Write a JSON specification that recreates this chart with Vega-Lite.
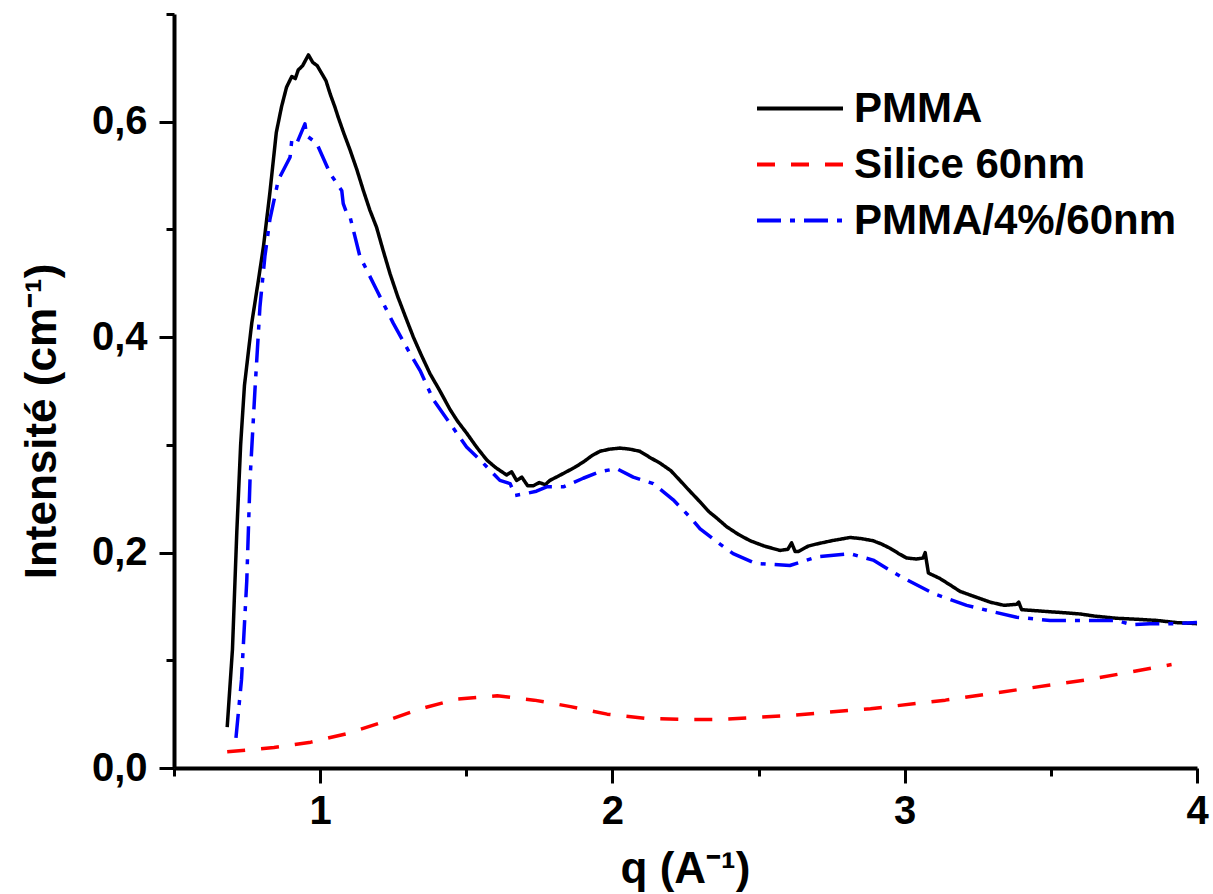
{
  "$schema": "https://vega.github.io/schema/vega-lite/v6.json",
  "autosize": {"type": "none"},
  "width": 1023,
  "height": 754,
  "padding": {"left": 174, "top": 14, "right": 16, "bottom": 126},
  "background": "white",
  "config": {
    "font": "Liberation Sans",
    "view": {"stroke": null},
    "axis": {"grid": false, "labelFont": "Liberation Sans", "titleFont": "Liberation Sans", "labelColor": "black", "titleColor": "black", "tickColor": "black", "domainColor": "black"},
    "legend": {"labelFont": "Liberation Sans"}
  },
  "data": {"values": [
    {"q": 0.682, "v": 0.038, "s": "PMMA"},
    {"q": 0.700, "v": 0.110, "s": "PMMA"},
    {"q": 0.715, "v": 0.220, "s": "PMMA"},
    {"q": 0.728, "v": 0.300, "s": "PMMA"},
    {"q": 0.741, "v": 0.355, "s": "PMMA"},
    {"q": 0.766, "v": 0.413, "s": "PMMA"},
    {"q": 0.790, "v": 0.455, "s": "PMMA"},
    {"q": 0.806, "v": 0.484, "s": "PMMA"},
    {"q": 0.828, "v": 0.534, "s": "PMMA"},
    {"q": 0.850, "v": 0.590, "s": "PMMA"},
    {"q": 0.868, "v": 0.614, "s": "PMMA"},
    {"q": 0.885, "v": 0.632, "s": "PMMA"},
    {"q": 0.903, "v": 0.642, "s": "PMMA"},
    {"q": 0.915, "v": 0.640, "s": "PMMA"},
    {"q": 0.925, "v": 0.648, "s": "PMMA"},
    {"q": 0.940, "v": 0.652, "s": "PMMA"},
    {"q": 0.960, "v": 0.662, "s": "PMMA"},
    {"q": 0.975, "v": 0.655, "s": "PMMA"},
    {"q": 0.990, "v": 0.652, "s": "PMMA"},
    {"q": 1.005, "v": 0.645, "s": "PMMA"},
    {"q": 1.020, "v": 0.638, "s": "PMMA"},
    {"q": 1.034, "v": 0.626, "s": "PMMA"},
    {"q": 1.050, "v": 0.614, "s": "PMMA"},
    {"q": 1.062, "v": 0.604, "s": "PMMA"},
    {"q": 1.080, "v": 0.590, "s": "PMMA"},
    {"q": 1.102, "v": 0.574, "s": "PMMA"},
    {"q": 1.125, "v": 0.556, "s": "PMMA"},
    {"q": 1.148, "v": 0.536, "s": "PMMA"},
    {"q": 1.170, "v": 0.518, "s": "PMMA"},
    {"q": 1.193, "v": 0.502, "s": "PMMA"},
    {"q": 1.215, "v": 0.481, "s": "PMMA"},
    {"q": 1.239, "v": 0.459, "s": "PMMA"},
    {"q": 1.265, "v": 0.438, "s": "PMMA"},
    {"q": 1.296, "v": 0.416, "s": "PMMA"},
    {"q": 1.319, "v": 0.400, "s": "PMMA"},
    {"q": 1.345, "v": 0.384, "s": "PMMA"},
    {"q": 1.376, "v": 0.366, "s": "PMMA"},
    {"q": 1.410, "v": 0.350, "s": "PMMA"},
    {"q": 1.444, "v": 0.333, "s": "PMMA"},
    {"q": 1.470, "v": 0.322, "s": "PMMA"},
    {"q": 1.501, "v": 0.311, "s": "PMMA"},
    {"q": 1.535, "v": 0.298, "s": "PMMA"},
    {"q": 1.570, "v": 0.286, "s": "PMMA"},
    {"q": 1.600, "v": 0.279, "s": "PMMA"},
    {"q": 1.638, "v": 0.272, "s": "PMMA"},
    {"q": 1.655, "v": 0.275, "s": "PMMA"},
    {"q": 1.672, "v": 0.267, "s": "PMMA"},
    {"q": 1.690, "v": 0.270, "s": "PMMA"},
    {"q": 1.710, "v": 0.262, "s": "PMMA"},
    {"q": 1.729, "v": 0.262, "s": "PMMA"},
    {"q": 1.750, "v": 0.265, "s": "PMMA"},
    {"q": 1.770, "v": 0.263, "s": "PMMA"},
    {"q": 1.786, "v": 0.267, "s": "PMMA"},
    {"q": 1.815, "v": 0.271, "s": "PMMA"},
    {"q": 1.843, "v": 0.275, "s": "PMMA"},
    {"q": 1.870, "v": 0.279, "s": "PMMA"},
    {"q": 1.900, "v": 0.284, "s": "PMMA"},
    {"q": 1.930, "v": 0.290, "s": "PMMA"},
    {"q": 1.957, "v": 0.294, "s": "PMMA"},
    {"q": 1.990, "v": 0.296, "s": "PMMA"},
    {"q": 2.026, "v": 0.297, "s": "PMMA"},
    {"q": 2.060, "v": 0.296, "s": "PMMA"},
    {"q": 2.094, "v": 0.294, "s": "PMMA"},
    {"q": 2.130, "v": 0.288, "s": "PMMA"},
    {"q": 2.163, "v": 0.283, "s": "PMMA"},
    {"q": 2.200, "v": 0.276, "s": "PMMA"},
    {"q": 2.231, "v": 0.267, "s": "PMMA"},
    {"q": 2.265, "v": 0.257, "s": "PMMA"},
    {"q": 2.300, "v": 0.247, "s": "PMMA"},
    {"q": 2.330, "v": 0.238, "s": "PMMA"},
    {"q": 2.357, "v": 0.232, "s": "PMMA"},
    {"q": 2.391, "v": 0.224, "s": "PMMA"},
    {"q": 2.430, "v": 0.217, "s": "PMMA"},
    {"q": 2.471, "v": 0.211, "s": "PMMA"},
    {"q": 2.520, "v": 0.206, "s": "PMMA"},
    {"q": 2.573, "v": 0.202, "s": "PMMA"},
    {"q": 2.600, "v": 0.203, "s": "PMMA"},
    {"q": 2.613, "v": 0.209, "s": "PMMA"},
    {"q": 2.625, "v": 0.201, "s": "PMMA"},
    {"q": 2.636, "v": 0.201, "s": "PMMA"},
    {"q": 2.670, "v": 0.206, "s": "PMMA"},
    {"q": 2.699, "v": 0.208, "s": "PMMA"},
    {"q": 2.750, "v": 0.211, "s": "PMMA"},
    {"q": 2.813, "v": 0.214, "s": "PMMA"},
    {"q": 2.850, "v": 0.213, "s": "PMMA"},
    {"q": 2.892, "v": 0.211, "s": "PMMA"},
    {"q": 2.920, "v": 0.208, "s": "PMMA"},
    {"q": 2.950, "v": 0.204, "s": "PMMA"},
    {"q": 2.980, "v": 0.199, "s": "PMMA"},
    {"q": 3.006, "v": 0.195, "s": "PMMA"},
    {"q": 3.040, "v": 0.194, "s": "PMMA"},
    {"q": 3.063, "v": 0.195, "s": "PMMA"},
    {"q": 3.070, "v": 0.200, "s": "PMMA"},
    {"q": 3.081, "v": 0.181, "s": "PMMA"},
    {"q": 3.120, "v": 0.176, "s": "PMMA"},
    {"q": 3.155, "v": 0.170, "s": "PMMA"},
    {"q": 3.189, "v": 0.164, "s": "PMMA"},
    {"q": 3.240, "v": 0.159, "s": "PMMA"},
    {"q": 3.292, "v": 0.154, "s": "PMMA"},
    {"q": 3.340, "v": 0.151, "s": "PMMA"},
    {"q": 3.383, "v": 0.152, "s": "PMMA"},
    {"q": 3.390, "v": 0.154, "s": "PMMA"},
    {"q": 3.400, "v": 0.147, "s": "PMMA"},
    {"q": 3.450, "v": 0.146, "s": "PMMA"},
    {"q": 3.500, "v": 0.145, "s": "PMMA"},
    {"q": 3.554, "v": 0.144, "s": "PMMA"},
    {"q": 3.600, "v": 0.143, "s": "PMMA"},
    {"q": 3.650, "v": 0.141, "s": "PMMA"},
    {"q": 3.725, "v": 0.139, "s": "PMMA"},
    {"q": 3.800, "v": 0.138, "s": "PMMA"},
    {"q": 3.862, "v": 0.137, "s": "PMMA"},
    {"q": 3.930, "v": 0.135, "s": "PMMA"},
    {"q": 4.000, "v": 0.134, "s": "PMMA"},
    {"q": 0.682, "v": 0.015, "s": "Silice 60nm"},
    {"q": 0.842, "v": 0.019, "s": "Silice 60nm"},
    {"q": 0.968, "v": 0.024, "s": "Silice 60nm"},
    {"q": 1.093, "v": 0.032, "s": "Silice 60nm"},
    {"q": 1.218, "v": 0.043, "s": "Silice 60nm"},
    {"q": 1.344, "v": 0.055, "s": "Silice 60nm"},
    {"q": 1.469, "v": 0.064, "s": "Silice 60nm"},
    {"q": 1.606, "v": 0.067, "s": "Silice 60nm"},
    {"q": 1.732, "v": 0.063, "s": "Silice 60nm"},
    {"q": 1.857, "v": 0.057, "s": "Silice 60nm"},
    {"q": 1.982, "v": 0.050, "s": "Silice 60nm"},
    {"q": 2.114, "v": 0.046, "s": "Silice 60nm"},
    {"q": 2.256, "v": 0.045, "s": "Silice 60nm"},
    {"q": 2.370, "v": 0.045, "s": "Silice 60nm"},
    {"q": 2.615, "v": 0.049, "s": "Silice 60nm"},
    {"q": 2.883, "v": 0.055, "s": "Silice 60nm"},
    {"q": 3.139, "v": 0.063, "s": "Silice 60nm"},
    {"q": 3.395, "v": 0.073, "s": "Silice 60nm"},
    {"q": 3.628, "v": 0.082, "s": "Silice 60nm"},
    {"q": 3.913, "v": 0.096, "s": "Silice 60nm"},
    {"q": 0.712, "v": 0.028, "s": "PMMA/4%/60nm"},
    {"q": 0.731, "v": 0.082, "s": "PMMA/4%/60nm"},
    {"q": 0.749, "v": 0.174, "s": "PMMA/4%/60nm"},
    {"q": 0.760, "v": 0.267, "s": "PMMA/4%/60nm"},
    {"q": 0.777, "v": 0.351, "s": "PMMA/4%/60nm"},
    {"q": 0.794, "v": 0.428, "s": "PMMA/4%/60nm"},
    {"q": 0.811, "v": 0.475, "s": "PMMA/4%/60nm"},
    {"q": 0.828, "v": 0.509, "s": "PMMA/4%/60nm"},
    {"q": 0.857, "v": 0.546, "s": "PMMA/4%/60nm"},
    {"q": 0.897, "v": 0.567, "s": "PMMA/4%/60nm"},
    {"q": 0.903, "v": 0.583, "s": "PMMA/4%/60nm"},
    {"q": 0.920, "v": 0.580, "s": "PMMA/4%/60nm"},
    {"q": 0.948, "v": 0.598, "s": "PMMA/4%/60nm"},
    {"q": 0.954, "v": 0.587, "s": "PMMA/4%/60nm"},
    {"q": 0.988, "v": 0.580, "s": "PMMA/4%/60nm"},
    {"q": 1.034, "v": 0.552, "s": "PMMA/4%/60nm"},
    {"q": 1.074, "v": 0.536, "s": "PMMA/4%/60nm"},
    {"q": 1.079, "v": 0.524, "s": "PMMA/4%/60nm"},
    {"q": 1.091, "v": 0.515, "s": "PMMA/4%/60nm"},
    {"q": 1.102, "v": 0.512, "s": "PMMA/4%/60nm"},
    {"q": 1.136, "v": 0.475, "s": "PMMA/4%/60nm"},
    {"q": 1.193, "v": 0.444, "s": "PMMA/4%/60nm"},
    {"q": 1.250, "v": 0.413, "s": "PMMA/4%/60nm"},
    {"q": 1.307, "v": 0.385, "s": "PMMA/4%/60nm"},
    {"q": 1.342, "v": 0.369, "s": "PMMA/4%/60nm"},
    {"q": 1.387, "v": 0.342, "s": "PMMA/4%/60nm"},
    {"q": 1.444, "v": 0.320, "s": "PMMA/4%/60nm"},
    {"q": 1.501, "v": 0.298, "s": "PMMA/4%/60nm"},
    {"q": 1.558, "v": 0.283, "s": "PMMA/4%/60nm"},
    {"q": 1.615, "v": 0.267, "s": "PMMA/4%/60nm"},
    {"q": 1.650, "v": 0.264, "s": "PMMA/4%/60nm"},
    {"q": 1.667, "v": 0.253, "s": "PMMA/4%/60nm"},
    {"q": 1.707, "v": 0.255, "s": "PMMA/4%/60nm"},
    {"q": 1.740, "v": 0.257, "s": "PMMA/4%/60nm"},
    {"q": 1.775, "v": 0.261, "s": "PMMA/4%/60nm"},
    {"q": 1.832, "v": 0.261, "s": "PMMA/4%/60nm"},
    {"q": 1.900, "v": 0.269, "s": "PMMA/4%/60nm"},
    {"q": 1.957, "v": 0.275, "s": "PMMA/4%/60nm"},
    {"q": 2.014, "v": 0.278, "s": "PMMA/4%/60nm"},
    {"q": 2.071, "v": 0.270, "s": "PMMA/4%/60nm"},
    {"q": 2.140, "v": 0.264, "s": "PMMA/4%/60nm"},
    {"q": 2.208, "v": 0.249, "s": "PMMA/4%/60nm"},
    {"q": 2.265, "v": 0.233, "s": "PMMA/4%/60nm"},
    {"q": 2.300, "v": 0.222, "s": "PMMA/4%/60nm"},
    {"q": 2.357, "v": 0.210, "s": "PMMA/4%/60nm"},
    {"q": 2.413, "v": 0.199, "s": "PMMA/4%/60nm"},
    {"q": 2.488, "v": 0.190, "s": "PMMA/4%/60nm"},
    {"q": 2.607, "v": 0.188, "s": "PMMA/4%/60nm"},
    {"q": 2.699, "v": 0.196, "s": "PMMA/4%/60nm"},
    {"q": 2.813, "v": 0.199, "s": "PMMA/4%/60nm"},
    {"q": 2.892, "v": 0.193, "s": "PMMA/4%/60nm"},
    {"q": 2.984, "v": 0.178, "s": "PMMA/4%/60nm"},
    {"q": 3.098, "v": 0.162, "s": "PMMA/4%/60nm"},
    {"q": 3.212, "v": 0.151, "s": "PMMA/4%/60nm"},
    {"q": 3.303, "v": 0.145, "s": "PMMA/4%/60nm"},
    {"q": 3.383, "v": 0.140, "s": "PMMA/4%/60nm"},
    {"q": 3.497, "v": 0.137, "s": "PMMA/4%/60nm"},
    {"q": 3.611, "v": 0.137, "s": "PMMA/4%/60nm"},
    {"q": 3.725, "v": 0.137, "s": "PMMA/4%/60nm"},
    {"q": 3.776, "v": 0.133, "s": "PMMA/4%/60nm"},
    {"q": 3.839, "v": 0.134, "s": "PMMA/4%/60nm"},
    {"q": 3.930, "v": 0.134, "s": "PMMA/4%/60nm"},
    {"q": 4.000, "v": 0.135, "s": "PMMA/4%/60nm"}
  ]},
  "resolve": {"axis": {"x": "independent", "y": "independent"}},
  "layer": [
    {
      "mark": {"type": "line", "strokeWidth": 3.5, "strokeJoin": "round"},
      "encoding": {
        "x": {"field": "q", "type": "quantitative",
          "scale": {"domain": [0.5, 4], "nice": false, "zero": false},
          "axis": {"orient": "bottom", "values": [1, 2, 3, 4], "format": "d", "tickSize": 15, "tickWidth": 3, "domainWidth": 4,
            "labelFontSize": 40, "labelFontWeight": "bold", "labelPadding": 8, "labelFlush": false,
            "title": "q (A⁻¹)", "titleFontSize": 44, "titleFontWeight": "bold",
            "titleX": 511, "titleY": 114, "titleBaseline": "alphabetic", "titleAlign": "center"}},
        "y": {"field": "v", "type": "quantitative",
          "scale": {"domain": [0, 0.7], "nice": false, "zero": true},
          "axis": {"orient": "left", "values": [0, 0.2, 0.4, 0.6], "tickSize": 15, "tickWidth": 3, "domainWidth": 4,
            "labelExpr": "replace(format(datum.value, '.1f'), '.', ',')",
            "labelFontSize": 40, "labelFontWeight": "bold", "labelPadding": 12, "labelFlush": false,
            "title": "Intensité (cm⁻¹)", "titleFontSize": 44, "titleFontWeight": "bold",
            "titleAngle": 270, "titleX": -119, "titleY": 407, "titleBaseline": "alphabetic", "titleAlign": "center"}},
        "color": {"field": "s", "type": "nominal",
          "scale": {"domain": ["PMMA", "Silice 60nm", "PMMA/4%/60nm"], "range": ["#000000", "#ff0000", "#0000ff"]},
          "legend": {"orient": "none", "legendX": 581, "legendY": 74, "title": null,
            "symbolType": "stroke", "symbolSize": 7396, "symbolStrokeWidth": 4, "clipHeight": 41, "rowPadding": 13,
            "labelFontSize": 42, "labelFontWeight": "bold", "labelOffset": 9, "labelLimit": 500, "padding": 0, "labelColor": "black"}},
        "strokeDash": {"field": "s", "type": "nominal",
          "scale": {"domain": ["PMMA", "Silice 60nm", "PMMA/4%/60nm"], "range": [[1, 0], [18, 16], [24, 9, 5, 9]]},
          "legend": null}
      }
    },
    {
      "mark": {"type": "line", "strokeOpacity": 0},
      "encoding": {
        "x": {"field": "q", "type": "quantitative",
          "axis": {"orient": "bottom", "values": [0.5, 1.5, 2.5, 3.5], "tickSize": 8, "tickWidth": 3, "domain": false, "labels": false, "title": null}},
        "y": {"field": "v", "type": "quantitative",
          "axis": {"orient": "left", "values": [0.1, 0.3, 0.5, 0.7], "tickSize": 8, "tickWidth": 3, "domain": false, "labels": false, "title": null}},
        "detail": {"field": "s", "type": "nominal"}
      }
    }
  ]
}
